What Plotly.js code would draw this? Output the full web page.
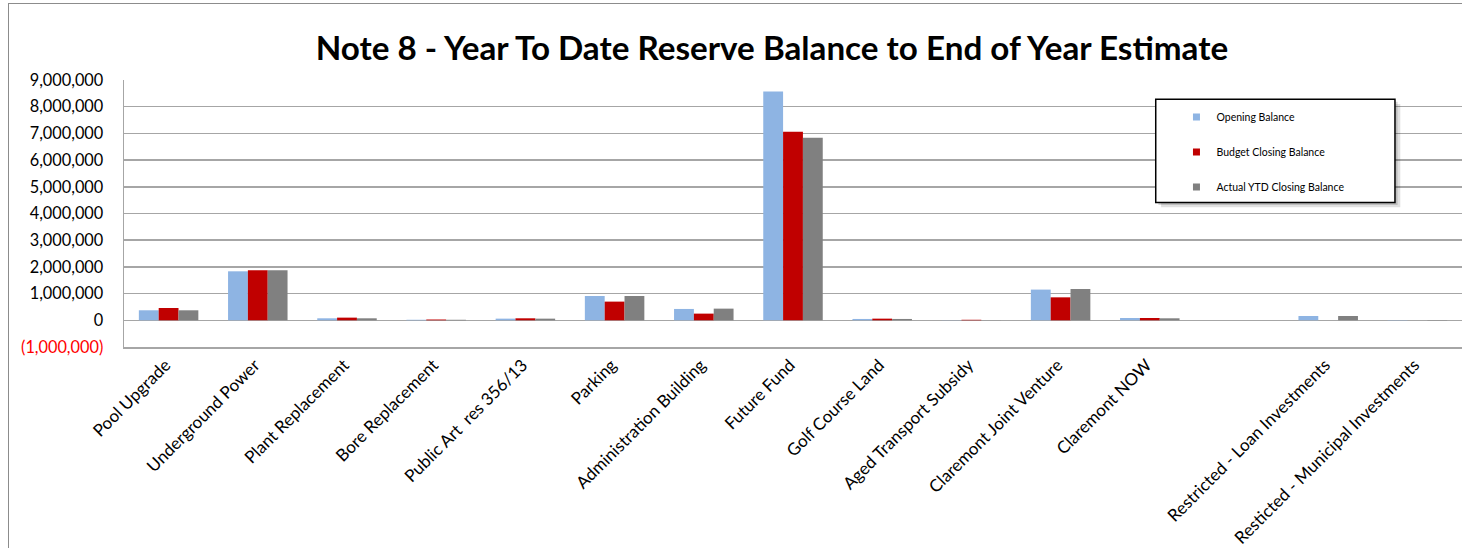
<!DOCTYPE html>
<html>
<head>
<meta charset="utf-8">
<script src="https://cdn.plot.ly/plotly-3.0.1.min.js"></script>
<style>
  html, body { margin: 0; padding: 0; background: #fff; }
  #wrap { position: relative; width: 1462px; height: 548px; overflow: hidden; }
  #chart { position: absolute; left: 0; top: 0; width: 1462px; height: 548px; }
  #frame { position: absolute; left: 8px; top: 3px; width: 1470px; height: 560px;
           border-left: 1.5px solid #8c8c8c; border-top: 1.5px solid #8c8c8c; pointer-events: none; }
</style>
</head>
<body>
<div id="wrap"><div id="chart"></div><div id="frame"></div></div>
<script>
const categories = [
  "Pool Upgrade", "Underground Power", "Plant Replacement", "Bore Replacement",
  "Public Art  res 356/13", "Parking", "Administration Building", "Future Fund",
  "Golf Course Land", "Aged Transport Subsidy", "Claremont Joint Venture",
  "Claremont NOW", " ", "Restricted - Loan Investments", "Resticted - Municipal Investments"
];
const openingBalance = [375000, 1835000, 75000, 20000, 62000, 910000, 425000, 8565000,
  50000, 5000, 1150000, 87000, 0, 162000, 10000];
const budgetClosing = [460000, 1870000, 100000, 30000, 75000, 700000, 250000, 7066000,
  62000, 20000, 860000, 87000, 0, 0, 0];
const actualYTDClosing = [375000, 1870000, 75000, 20000, 62000, 910000, 437000, 6840000,
  50000, 5000, 1173000, 75000, 0, 162000, 10000];

const seriesNames = ["Opening Balance", "Budget Closing Balance", "Actual YTD Closing Balance"];
const seriesColors = ["#8EB4E3", "#C00000", "#808080"];

const yTickVals = [-1000000, 0, 1000000, 2000000, 3000000, 4000000, 5000000, 6000000, 7000000, 8000000, 9000000];
const yTickText = ['<span style="color:#FF0000">(1,000,000)</span>', "0", "1,000,000", "2,000,000",
  "3,000,000", "4,000,000", "5,000,000", "6,000,000", "7,000,000", "8,000,000", "9,000,000"];

const seriesValues = [openingBalance, budgetClosing, actualYTDClosing];
const font = "Lato, 'Open Sans', sans-serif";

const traces = [];
seriesValues.forEach((vals, i) => {
  traces.push({
    type: "bar", x: categories, y: vals, name: seriesNames[i],
    marker: { color: seriesColors[i] }, showlegend: false, hoverinfo: "x+y+name"
  });
});
seriesNames.forEach((n, i) => {
  traces.push({
    type: "scatter", mode: "markers", x: [null], y: [null], name: n,
    legendgroup: "g" + i,
    marker: { symbol: "square", size: 7, color: seriesColors[i] }
  });
});

const gridColor = "#a6a6a6";
const layout = {
  width: 1462, height: 548,
  margin: { l: 124, r: 0, t: 80, b: 201 },
  paper_bgcolor: "#ffffff", plot_bgcolor: "#ffffff",
  font: { family: font, color: "#000" },
  title: {
    text: "<b>Note 8 - Year To Date Reserve Balance to End of Year Estimate</b>",
    font: { family: font, size: 33.2, color: "#000" },
    xref: "container", x: 0.528, xanchor: "center",
    yref: "container", y: 1 - 48 / 548, yanchor: "middle"
  },
  barmode: "group", bargap: 0.333, bargroupgap: 0,
  xaxis: {
    type: "category", tickangle: -45, showgrid: false,
    showline: true, linecolor: gridColor, linewidth: 1.5,
    tickfont: { family: font, size: 17, color: "#000" },
    ticks: "", ticklabelshift: -3, automargin: false
  },
  yaxis: {
    range: [-1000000, 9000000], tickmode: "array", tickvals: yTickVals, ticktext: yTickText,
    showgrid: true, gridcolor: gridColor, gridwidth: 1.5, zeroline: false,
    showline: true, linecolor: gridColor, linewidth: 1.5,
    tickfont: { family: font, size: 16.3, color: "#000" },
    ticks: "", ticklabelstandoff: 16, automargin: false
  },
  legend: {
    x: 0.7866, xanchor: "left", y: 0.916, yanchor: "top",
    xref: "paper", yref: "paper",
    traceorder: "grouped", tracegroupgap: 16,
    bgcolor: "rgba(0,0,0,0)", borderwidth: 0,
    font: { family: font, size: 10.5, color: "#000" }
  },
  shapes: [
    { type: "rect", xref: "paper", yref: "paper", x0: 0.7711 + 0.004, x1: 0.9499 + 0.004,
      y0: 0.541 - 0.018, y1: 0.9278 - 0.018, line: { width: 0 }, fillcolor: "rgba(0,0,0,0.12)", layer: "above" },
    { type: "rect", xref: "paper", yref: "paper", x0: 0.7711 + 0.002, x1: 0.9499 + 0.002,
      y0: 0.541 - 0.009, y1: 0.9278 - 0.009, line: { width: 0 }, fillcolor: "rgba(0,0,0,0.15)", layer: "above" },
    { type: "rect", xref: "paper", yref: "paper", x0: 0.7711, x1: 0.9499, y0: 0.541, y1: 0.9278,
      line: { color: "#000", width: 1.5 }, fillcolor: "#ffffff", layer: "above" }
  ]
};

Plotly.newPlot("chart", traces, layout, { displayModeBar: false, staticPlot: true });
</script>
</body>
</html>
